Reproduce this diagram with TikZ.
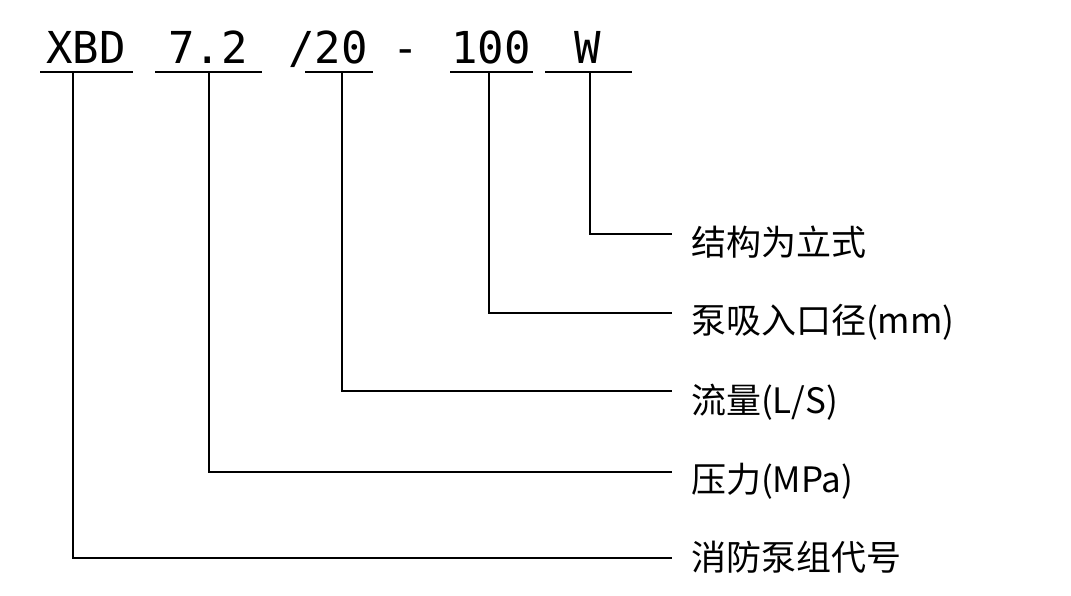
\documentclass[tikz,border=0pt]{standalone}
\usepackage{fontspec}
\newfontfamily\cjk{Noto Sans CJK SC}
\newfontfamily\mono{DejaVu Sans Mono}
\begin{document}
\begin{tikzpicture}[x=1pt,y=-1pt,line width=2.2pt,
  code/.style={font=\mono\fontsize{44}{44}\selectfont,anchor=base,inner sep=0pt},
  lab/.style={font=\cjk\fontsize{35}{35}\selectfont,anchor=west,inner sep=0pt}]
\useasboundingbox[fill=white] (0,0) rectangle (1071,596);
\node[code] (t1) at (86,64) {XBD};
\node[code] (t2) at (208,64) {7.2};
\node[code] (t3) at (328,64) {/20};
\node[code] (t4) at (406,64) {-};
\node[code] (t5) at (491,64) {100};
\node[code] (t6) at (588,64) {W};
\foreach \a/\b in {40/133,155/262,305/373,450/533,545/632}
  \draw (\a,72) -- (\b,72);
\coordinate (u1) at (73,72);\coordinate (u2) at (209,72);\coordinate (u3) at (342,72);
\coordinate (u4) at (489,72);\coordinate (u5) at (590,72);
\node[lab] (l5) at (690,242) {结构为立式};
\node[lab] (l4) at (690,322) {泵吸入口径(mm)};
\node[lab] (l3) at (690,402) {流量(L/S)};
\node[lab] (l2) at (690,481) {压力(MPa)};
\node[lab] (l1) at (690,557) {消防泵组代号};
\draw (u5) |- (672,234);
\draw (u4) |- (672,313);
\draw (u3) |- (672,391);
\draw (u2) |- (672,472);
\draw (u1) |- (672,558);
\end{tikzpicture}
\end{document}
